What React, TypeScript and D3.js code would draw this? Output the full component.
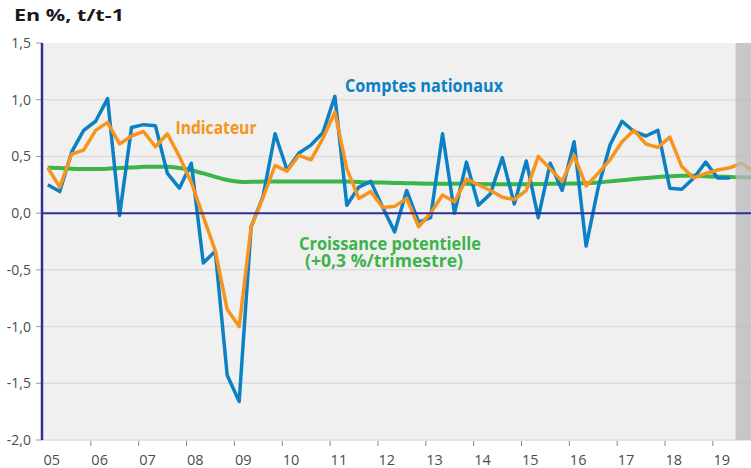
import React from "react";
import * as d3 from "d3";

const startYear = 2005;
const yearLabels = ["05","06","07","08","09","10","11","12","13","14","15","16","17","18","19"];
const yTicks = [1.5, 1.0, 0.5, 0.0, -0.5, -1.0, -1.5, -2.0];

// Comptes nationaux (quarterly, 2005Q1 - 2019Q2)
const comptes = [
  0.25, 0.19, 0.54, 0.73,
  0.81, 1.01, -0.02, 0.755,
  0.78, 0.77, 0.35, 0.22,
  0.44, -0.44, -0.335, -1.43,
  -1.66, -0.12, 0.15, 0.70,
  0.38, 0.53, 0.60, 0.71,
  1.03, 0.07, 0.23, 0.28,
  0.05, -0.165, 0.20, -0.08,
  -0.04, 0.70, 0.0, 0.45,
  0.07, 0.17, 0.49, 0.08,
  0.46, -0.04, 0.44, 0.20,
  0.63, -0.29, 0.22, 0.60,
  0.81, 0.72, 0.68, 0.73,
  0.22, 0.21, 0.31, 0.45,
  0.31, 0.31,
];

// Indicateur (quarterly, 2005Q1 - 2019Q4)
const indicateur = [
  0.40, 0.23, 0.52, 0.555,
  0.73, 0.80, 0.61, 0.68,
  0.72, 0.585, 0.70, 0.50,
  0.27, -0.03, -0.33, -0.85,
  -1.0, -0.12, 0.14, 0.42,
  0.37, 0.51, 0.47, 0.66,
  0.89, 0.39, 0.13, 0.19,
  0.05, 0.06, 0.13, -0.12,
  0.0, 0.16, 0.10, 0.30,
  0.25, 0.20, 0.14, 0.12,
  0.20, 0.50, 0.39, 0.28,
  0.51, 0.24, 0.35, 0.47,
  0.63, 0.73, 0.61, 0.58,
  0.67, 0.41, 0.31, 0.35,
  0.38, 0.40, 0.44, 0.37,
];

// Croissance potentielle (quarterly, 2005Q1 - 2019Q4)
const potentielle = [
  0.40, 0.40, 0.39, 0.39,
  0.39, 0.39, 0.40, 0.40,
  0.41, 0.41, 0.41, 0.40,
  0.38, 0.35, 0.32, 0.29,
  0.275, 0.275, 0.28, 0.28,
  0.28, 0.28, 0.28, 0.28,
  0.28, 0.28, 0.275, 0.27,
  0.27, 0.265, 0.265, 0.26,
  0.26, 0.26, 0.26, 0.26,
  0.255, 0.255, 0.255, 0.255,
  0.255, 0.255, 0.26, 0.26,
  0.26, 0.265, 0.27, 0.28,
  0.29, 0.30, 0.31, 0.32,
  0.325, 0.33, 0.33, 0.325,
  0.32, 0.32, 0.315, 0.315,
];

const forecastStartIndex = 58; // 2019Q3 onwards is forecast

const W = 751, H = 468;
const plotLeft = 42, plotRight = 751, plotTop = 43, plotBottom = 440;
const FONT = "'Open Sans', 'DejaVu Sans', sans-serif";

export default function App() {
  const x = d3.scaleLinear().domain([startYear, startYear + 15]).range([43, 43 + 15 * 47.85]);
  const y = d3.scaleLinear().domain([-2, 1.5]).range([plotBottom, plotTop]);
  const qx = (i: number) => x(startYear + (i + 0.4) / 4);

  const line = d3.line<number>().x((_, i) => qx(i)).y((v) => y(v)).curve(d3.curveLinear);
  const smooth = d3.line<number>().x((_, i) => qx(i)).y((v) => y(v)).curve(d3.curveBasis);

  const bandX = qx(forecastStartIndex - 0.5);

  return (
    <svg width={W} height={H} style={{ position: "absolute", left: 0, top: 0, display: "block" }} fontFamily={FONT}>
      <defs>
        <clipPath id="plotclip">
          <rect x={plotLeft} y={plotTop - 10} width={plotRight - plotLeft} height={plotBottom - plotTop + 10} />
        </clipPath>
      </defs>
      <rect x={0} y={0} width={W} height={H} fill="#ffffff" />
      <rect x={plotLeft} y={plotTop} width={plotRight - plotLeft} height={plotBottom - plotTop} fill="#f0f0f0" />
      {yTicks.filter((t) => t !== 0 && t !== 1.5 && t !== -2).map((t) => (
        <line key={t} x1={plotLeft} x2={plotRight} y1={y(t)} y2={y(t)} stroke="#dcdcdc" strokeWidth={1.5} />
      ))}
      <line x1={plotLeft} x2={plotRight} y1={plotBottom} y2={plotBottom} stroke="#dcdcdc" strokeWidth={1.5} />
      {yTicks.map((t) => (
        <g key={"yt" + t}>
          <line x1={36} x2={plotLeft} y1={y(t)} y2={y(t)} stroke="#999" strokeWidth={1} />
          <text x={31} y={y(t) + 5} textAnchor="end" fontSize={14} fill="#4d4d4d">
            {d3.format(".1f")(t).replace(".", ",").replace("−", "-")}
          </text>
        </g>
      ))}
      {yearLabels.map((lab, k) => (
        <g key={lab}>
          {k > 0 && <line x1={x(startYear + k)} x2={x(startYear + k)} y1={plotBottom + 1} y2={plotBottom + 6} stroke="#888" strokeWidth={1} />}
          <text x={x(startYear + k) + 0.5} y={465} fontSize={14.5} fill="#4d4d4d">{lab}</text>
        </g>
      ))}
      <g clipPath="url(#plotclip)">
        <path d={smooth(potentielle) || ""} fill="none" stroke="#3bb44a" strokeWidth={4} />
        <path d={line(comptes) || ""} fill="none" stroke="#0b80c3" strokeWidth={3.5} strokeLinejoin="round" />
        <path d={line(indicateur) || ""} fill="none" stroke="#f7941d" strokeWidth={3.5} strokeLinejoin="round" />
      </g>
      <rect x={bandX} y={plotTop} width={plotRight - bandX} height={plotBottom - plotTop} fill="#b9babc" opacity={0.75} />
      <line x1={plotLeft} x2={plotRight} y1={y(0)} y2={y(0)} stroke="#2e3192" strokeWidth={2} />
      <line x1={plotLeft} x2={plotLeft} y1={plotTop} y2={plotBottom} stroke="#2e3192" strokeWidth={2.5} />
      <text x={14} y={21} fontSize={16.5} fontWeight="bold" fill="#1a1a1a" textLength={110} lengthAdjust="spacingAndGlyphs">En %, t/t-1</text>
      <text x={345} y={91.5} fontSize={18} fontWeight="bold" fill="#0b80c3" textLength={158} lengthAdjust="spacingAndGlyphs">Comptes nationaux</text>
      <text x={175.5} y={134} fontSize={18} fontWeight="bold" fill="#f7941d" textLength={81} lengthAdjust="spacingAndGlyphs">Indicateur</text>
      <text fontSize={17} fontWeight="bold" fill="#3bb44a">
        <tspan x={299} y={249.5} textLength={182} lengthAdjust="spacingAndGlyphs">Croissance potentielle</tspan>
        <tspan x={305} y={267} textLength={158} lengthAdjust="spacingAndGlyphs">(+0,3 %/trimestre)</tspan>
      </text>
    </svg>
  );
}
